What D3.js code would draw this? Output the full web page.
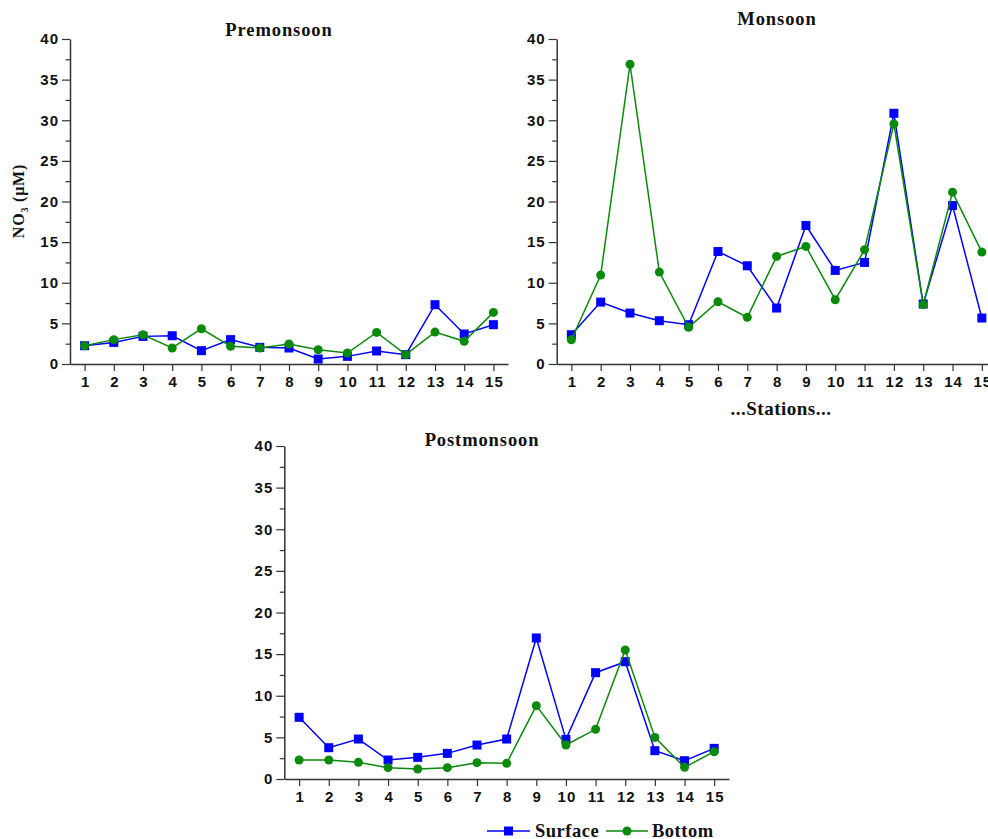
<!DOCTYPE html>
<html>
<head>
<meta charset="utf-8">
<script src="https://cdn.jsdelivr.net/npm/d3@7"></script>
<style>
  html, body { margin: 0; padding: 0; background: #fff; }
  svg { display: block; }
</style>
</head>
<body>
<svg id="chart" width="988" height="839"></svg>
<script>
// Nitrate (NO3, µM) at 15 stations, surface and bottom waters, three seasons
const stations = [1, 2, 3, 4, 5, 6, 7, 8, 9, 10, 11, 12, 13, 14, 15];
const yTicks = [0, 5, 10, 15, 20, 25, 30, 35, 40];

const preSurface  = [2.25, 2.66, 3.4, 3.48, 1.64, 3.0, 2.05, 1.97, 0.61, 0.94, 1.6, 1.15, 7.3, 3.69, 4.84];
const preBottom   = [2.25, 3.0, 3.6, 1.97, 4.34, 2.17, 1.97, 2.46, 1.76, 1.35, 3.89, 1.15, 3.93, 2.79, 6.35];
const monSurface  = [3.6, 7.62, 6.27, 5.33, 4.84, 13.85, 12.09, 6.89, 17.05, 11.52, 12.5, 30.86, 7.38, 19.5, 5.66];
const monBottom   = [2.99, 10.94, 36.89, 11.31, 4.51, 7.66, 5.74, 13.24, 14.47, 7.91, 14.06, 29.55, 7.3, 21.15, 13.77];
const postSurface = [7.41, 3.76, 4.8, 2.28, 2.6, 3.08, 4.08, 4.8, 16.94, 4.76, 12.77, 14.09, 3.4, 2.2, 3.68];
const postBottom  = [2.28, 2.28, 2.0, 1.36, 1.2, 1.36, 1.96, 1.88, 8.81, 4.08, 5.97, 15.5, 5.0, 1.4, 3.28];

const seriesNames = ["Surface", "Bottom"];
const colors = { Surface: "#0000ff", Bottom: "#0a8a0a" };

const svg = d3.select("#chart");
const axisColor = "#333";
const serif = "'Liberation Serif', 'Times New Roman', serif";
const sans = "'Liberation Sans', Arial, sans-serif";

const panels = [
  { title: "Premonsoon",  surface: preSurface,  bottom: preBottom,  left: 70,    right: 508,   top: 39,  bottom0: 364, titleX: 279, titleY: 36 },
  { title: "Monsoon",     surface: monSurface,  bottom: monBottom,  left: 556.7, right: 996.5, top: 39,  bottom0: 364, titleX: 777, titleY: 25 },
  { title: "Postmonsoon", surface: postSurface, bottom: postBottom, left: 284.3, right: 729,   top: 446, bottom0: 779, titleX: 482, titleY: 446 }
];

function styleTickText(sel) {
  sel.attr("font-family", sans).attr("font-weight", "bold")
    .attr("font-size", 15).attr("letter-spacing", 1).attr("fill", "#111");
}

function drawPanel(p) {
  const g = svg.append("g");
  const x = d3.scaleLinear().domain([0.5, 15.5]).range([p.left, p.right]);
  const y = d3.scaleLinear().domain([0, 40]).range([p.bottom0, p.top]);

  // y axis with minor ticks
  const yMinor = d3.range(2.5, 40, 5);
  g.append("g")
    .attr("transform", `translate(${p.left},0)`)
    .call(d3.axisLeft(y).tickValues(yMinor).tickSize(4.5).tickFormat(""))
    .call(a => a.select(".domain").remove())
    .call(a => a.selectAll("line").attr("stroke", axisColor).attr("stroke-width", 1.2));
  const ya = g.append("g")
    .attr("transform", `translate(${p.left},0)`)
    .call(d3.axisLeft(y).tickValues(yTicks).tickSize(8).tickSizeOuter(0).tickPadding(3));
  ya.select(".domain").attr("stroke", axisColor).attr("stroke-width", 1.5);
  ya.selectAll("line").attr("stroke", axisColor).attr("stroke-width", 1.2);
  ya.selectAll("text").call(styleTickText);

  // x axis
  const xa = g.append("g")
    .attr("transform", `translate(0,${p.bottom0})`)
    .call(d3.axisBottom(x).tickValues(stations).tickSize(7).tickSizeOuter(0).tickPadding(5));
  xa.select(".domain").attr("stroke", axisColor).attr("stroke-width", 1.5);
  xa.selectAll("line").attr("stroke", axisColor).attr("stroke-width", 1.2);
  xa.selectAll("text").call(styleTickText).attr("dx", 0.5);

  // title
  g.append("text")
    .attr("x", p.titleX).attr("y", p.titleY)
    .attr("text-anchor", "middle")
    .attr("font-family", serif).attr("font-weight", "bold").attr("font-size", 18.5)
    .attr("letter-spacing", 0.9)
    .attr("fill", "#111")
    .text(p.title);

  const line = d3.line().x((d, i) => x(stations[i])).y(d => y(d));

  // Surface: squares
  g.append("path").datum(p.surface)
    .attr("d", line).attr("fill", "none")
    .attr("stroke", colors.Surface).attr("stroke-width", 1.5);
  g.selectAll(".sq").data(p.surface).join("rect")
    .attr("class", "sq")
    .attr("x", (d, i) => x(stations[i]) - 4.5).attr("y", d => y(d) - 4.5)
    .attr("width", 9).attr("height", 9)
    .attr("fill", colors.Surface);

  // Bottom: circles
  g.append("path").datum(p.bottom)
    .attr("d", line).attr("fill", "none")
    .attr("stroke", colors.Bottom).attr("stroke-width", 1.5);
  g.selectAll(".ci").data(p.bottom).join("circle")
    .attr("class", "ci")
    .attr("cx", (d, i) => x(stations[i])).attr("cy", d => y(d))
    .attr("r", 4.5)
    .attr("fill", colors.Bottom);
}

panels.forEach(drawPanel);

// y-axis title on the first panel
const yt = svg.append("text")
  .attr("transform", "translate(24,201) rotate(-90)")
  .attr("text-anchor", "middle")
  .attr("font-family", serif).attr("font-weight", "bold").attr("font-size", 16)
  .attr("letter-spacing", 0.8)
  .attr("fill", "#111");
yt.append("tspan").text("NO");
yt.append("tspan").attr("font-size", 10).attr("dy", 4).text("3");
yt.append("tspan").attr("dy", -4).text(" (μM)");

// x-axis title under the monsoon panel
svg.append("text")
  .attr("x", 781).attr("y", 415)
  .attr("text-anchor", "middle")
  .attr("font-family", serif).attr("font-weight", "bold").attr("font-size", 19)
  .attr("letter-spacing", 0.5)
  .attr("fill", "#111")
  .text("...Stations...");

// legend
const legend = svg.append("g");
const legendItems = [
  { name: "Surface", x0: 487, x1: 530, tx: 535 },
  { name: "Bottom",  x0: 606, x1: 648, tx: 652 }
];
const ly = 831;
legendItems.forEach(it => {
  legend.append("line")
    .attr("x1", it.x0).attr("x2", it.x1).attr("y1", ly).attr("y2", ly)
    .attr("stroke", colors[it.name]).attr("stroke-width", 1.5);
  const mx = (it.x0 + it.x1) / 2;
  if (it.name === "Surface") {
    legend.append("rect").attr("x", mx - 4.5).attr("y", ly - 4.5)
      .attr("width", 9).attr("height", 9).attr("fill", colors[it.name]);
  } else {
    legend.append("circle").attr("cx", mx).attr("cy", ly).attr("r", 4.5)
      .attr("fill", colors[it.name]);
  }
  legend.append("text")
    .attr("x", it.tx).attr("y", ly + 6)
    .attr("font-family", serif).attr("font-weight", "bold").attr("font-size", 18.5)
    .attr("letter-spacing", 0.5)
    .attr("fill", "#111")
    .text(it.name);
});
</script>
</body>
</html>
